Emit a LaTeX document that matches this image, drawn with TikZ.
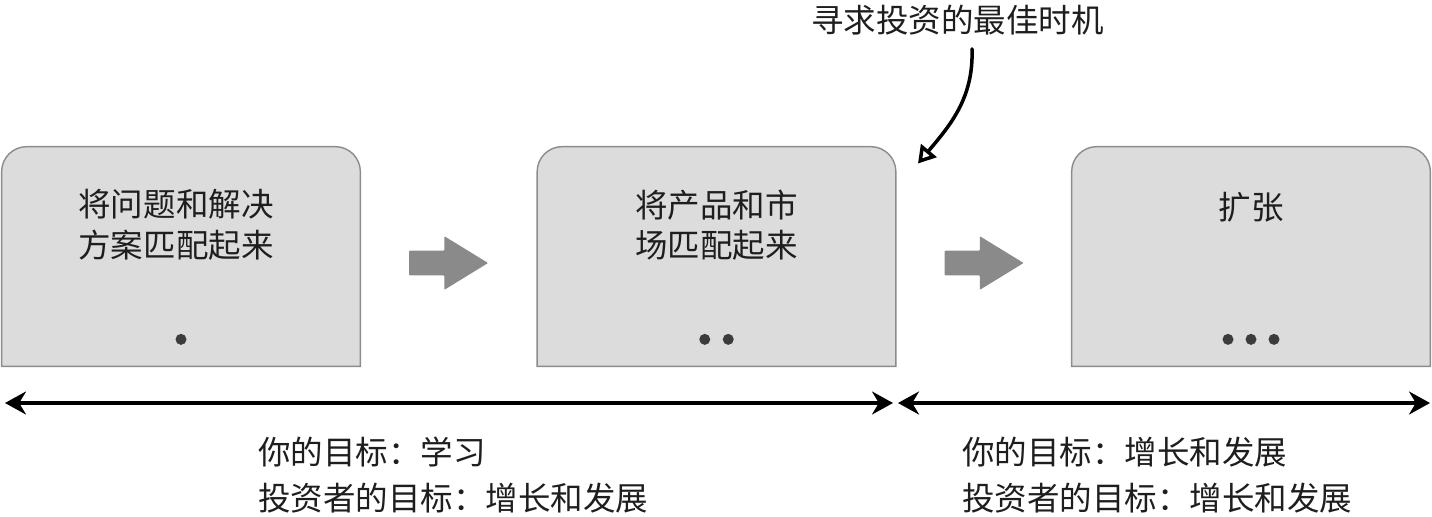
\documentclass[tikz,border=0pt]{standalone}
\usepackage{fontspec}
\setmainfont{Noto Sans CJK SC}
\usepackage{tikz}
\usetikzlibrary{positioning,arrows.meta,shapes.arrows}
\usepackage{xcolor}
\definecolor{panelfill}{HTML}{DCDCDC}
\definecolor{paneledge}{HTML}{8C8C8C}
\definecolor{bigarrowgray}{HTML}{8A8A8A}
\definecolor{dotgray}{HTML}{3C3C3C}
\definecolor{inkgray}{HTML}{1E1E1E}

\begin{document}
\begin{tikzpicture}[>={Stealth[length=4.2mm,width=4.6mm]},
  stage/.style={minimum width=7.16cm,minimum height=4.38cm,inner sep=0pt},
  panel/.style={fill=panelfill,draw=paneledge,line width=0.8pt},
  title/.style={font=\fontsize{18.5}{23}\selectfont,text=inkgray,align=center,inner sep=0pt},
  goal/.style={font=\fontsize{18.5}{26}\selectfont,text=inkgray,align=left,inner sep=0pt,anchor=west},
  bigarrow/.style={single arrow,fill=bigarrowgray,inner xsep=0pt,inner ysep=0.24cm,
    single arrow head extend=0.29cm,single arrow tip angle=63,minimum height=1.58cm,
    rounded corners=0.5pt},
  span/.style={<->,line width=1.8pt,black}]
\useasboundingbox (0,0) rectangle (28.64,10.32);

\node[stage] (s1) at (3.62,5.19) {};
\node[stage] (s2) at (14.33,5.19) {};
\node[stage] (s3) at (25.02,5.19) {};
\foreach \n in {s1,s2,s3}
  \draw[panel] (\n.south west) -- ([yshift=-5mm]\n.north west)
    arc[start angle=180,end angle=90,radius=5mm] -- ([xshift=-5mm]\n.north east)
    arc[start angle=90,end angle=0,radius=5mm] -- (\n.south east) -- cycle;

\node[title,below=0.85cm of s1.north,xshift=-0.1cm] (t1) {将问题和解决\\方案匹配起来};
\node[title,below=0.85cm of s2.north] (t2) {将产品和市\\场匹配起来};
\node[title,below=0.9cm of s3.north] (t3) {扩张};

\fill[dotgray] ([yshift=0.54cm]s1.south) circle (0.11);
\fill[dotgray] ([xshift=-0.235cm,yshift=0.54cm]s2.south) circle (0.11);
\fill[dotgray] ([xshift=0.235cm,yshift=0.54cm]s2.south) circle (0.11);
\fill[dotgray] ([xshift=-0.46cm,yshift=0.54cm]s3.south) circle (0.11);
\fill[dotgray] ([yshift=0.54cm]s3.south) circle (0.11);
\fill[dotgray] ([xshift=0.46cm,yshift=0.54cm]s3.south) circle (0.11);

\node[bigarrow] (g1) at (8.77,5.06) {};
\node[bigarrow] (g2) at (19.48,5.06) {};

\coordinate (l0) at (0.1,2.26);
\coordinate (l1) at (17.86,2.26);
\coordinate (l2) at (17.96,2.26);
\coordinate (l3) at (28.6,2.26);
\draw[span] (l0) -- (l1);
\draw[span] (l2) -- (l3);

\node[goal] (y1) at (5.16,0.82) {你的目标：学习\\投资者的目标：增长和发展};
\node[goal] (y2) at (19.24,0.82) {你的目标：增长和发展\\投资者的目标：增长和发展};

\node[title] (n) at (19.15,9.92) {寻求投资的最佳时机};
\coordinate (m) at (18.36,7.05);
\draw[-{Triangle[open,length=3.4mm,width=4mm]},line width=2pt,line cap=round]
  ([xshift=0.29cm,yshift=-0.27cm]n.south) to[out=-88,in=50] (m);
\end{tikzpicture}
\end{document}
